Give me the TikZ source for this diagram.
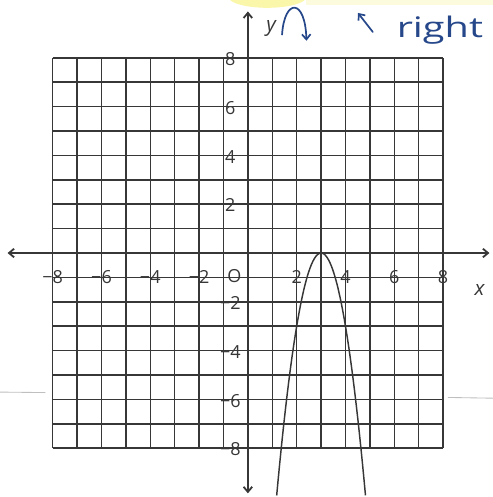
\documentclass[tikz,border=0pt]{standalone}
\usepackage{amsmath,amssymb}
\usepackage{fontspec}
\usepackage{xcolor}
\usepackage{tikz}
\usetikzlibrary{arrows.meta,calc,positioning}
\newfontfamily\handfont{Open Sans}
\definecolor{pen}{RGB}{55,55,55}
\definecolor{ink}{RGB}{38,72,138}
\definecolor{hilite}{RGB}{250,246,170}

\begin{document}
\begin{tikzpicture}[>={Straight Barb[length=6pt,width=10pt]},
  gridline/.style={pen,line width=1.8pt},
  axisline/.style={pen,line width=2.1pt,<->},
  ticklbl/.style={font=\handfont\fontsize{21}{21}\selectfont,text=pen,inner sep=0pt},
  inkline/.style={ink,line width=2pt,line cap=round}]
  \useasboundingbox (-10.16,-10) rectangle (10.04,10.37);
  % highlighter and scan marks
  \fill[hilite] (0.8,10.5) ellipse (1.6 and 0.45);
  \fill[hilite!40] (2.4,10.15) rectangle (10.04,10.37);
  \draw[black!25,line width=1pt] (-10.16,-5.7) -- (-8.3,-5.72);
  \draw[black!25,line width=1pt] (8.2,-5.92) -- (10.04,-5.95);
  % grid and axes
  \draw[gridline] (-8,-8) grid (8,8);
  \coordinate (xw) at (-9.85,0); \coordinate (xe) at (9.9,0);
  \coordinate (ys) at (0,-9.85); \coordinate (yn) at (0,9.9);
  \draw[axisline] (xw) -- (xe);
  \draw[axisline] (ys) -- (yn);
  \foreach \k/\t [count=\i] in {-8/−8,-6/−6,-4/−4,-2/−2,2/2,4/4,6/6,8/8} {
    \node[ticklbl] (xl\i) at (\k,-1) {\t};
    \node[ticklbl] (yl\i) at (-0.72,\k-0.05) {\t};
  }
  \node[ticklbl] (orig) at (-0.55,-0.95) {O};
  \node[ticklbl,font=\handfont\fontsize{24}{24}\selectfont\itshape] (xlab) at (9.5,-1.5) {x};
  \node[ticklbl,font=\handfont\fontsize{24}{24}\selectfont\itshape] (ylab) at (0.95,9.2) {y};
  % the parabola
  \draw[pen,line width=1.7pt,domain=1.18:4.82,samples=60] plot (\x,{-3*(\x-3)*(\x-3)});
  % pen notes
  \draw[inkline,->] (1.4,8.95) .. controls (1.5,10.45) and (2.35,10.45) .. (2.4,8.7);
  \coordinate (tail) at (5.12,9.06); \coordinate (tip) at (4.51,9.84);
  \draw[inkline,->] (tail) -- (tip);
  \node[text=ink,font=\handfont\fontsize{33}{33}\selectfont,anchor=base,xscale=1.4,inner sep=0pt] (rgt) at (7.87,8.85) {right};
\end{tikzpicture}
\end{document}
